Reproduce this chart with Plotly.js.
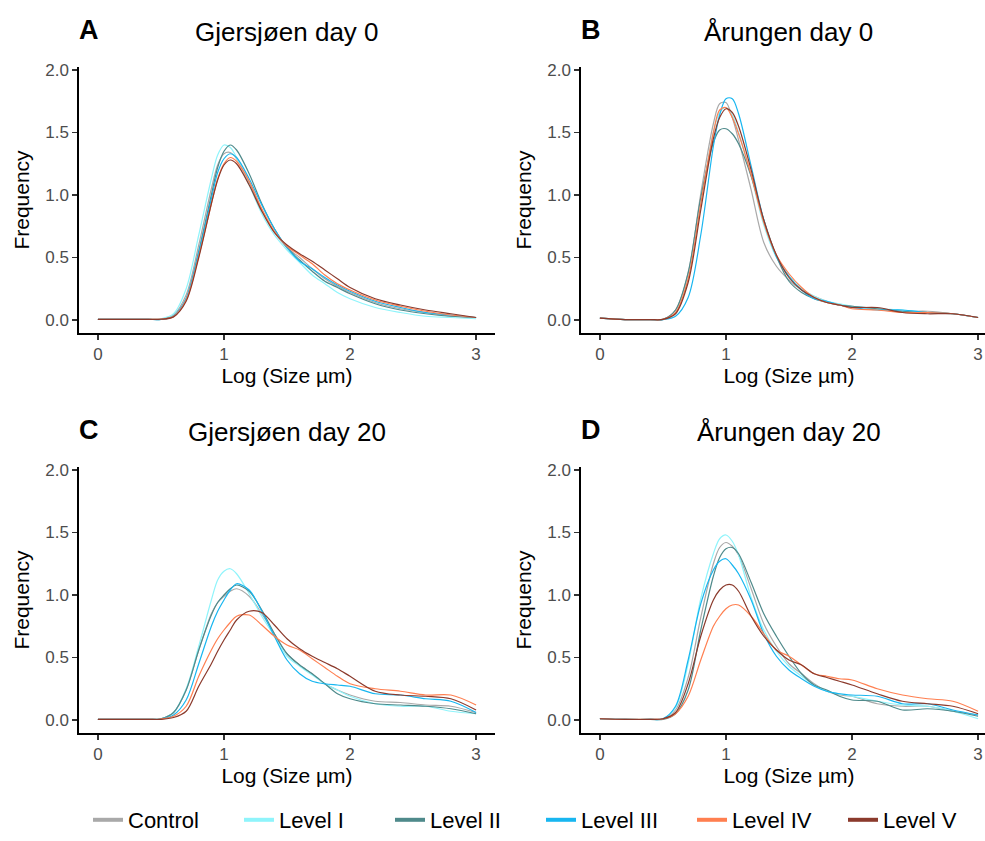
<!DOCTYPE html>
<html>
<head>
<meta charset="utf-8">
<script src="https://cdn.plot.ly/plotly-3.0.1.min.js"></script>
<style>
html,body{margin:0;padding:0;background:#fff;overflow:hidden;}
#chart{width:1000px;height:841px;}
</style>
</head>
<body>
<div id="chart"></div>
<script>
// ---- data ----
const logSize = [0,0.2,0.4,0.5,0.6,0.7,0.8,0.9,0.95,1.0,1.05,1.1,1.2,1.3,1.4,1.5,1.6,1.7,1.8,1.9,2.0,2.2,2.4,2.6,2.8,3.0];

const seriesNames = ["Control","Level I","Level II","Level III","Level IV","Level V"];
const seriesColors = ["#a9a9a9","#8ff4fb","#4f8a8b","#18b6f0","#ff7f50","#8b3a2c"];

const panelTitles = ["Gjersjøen day 0","Årungen day 0","Gjersjøen day 20","Årungen day 20"];
const panelLetters = ["A","B","C","D"];
const xTicks = [0,1,2,3];
const yTicks = [0,0.5,1,1.5,2];

// Panel A: Gjersjøen day 0
const gjer0_control = [0.005,0.005,0.005,0.007,0.04,0.20,0.60,1.05,1.24,1.33,1.34,1.29,1.10,0.88,0.70,0.58,0.50,0.41,0.33,0.27,0.22,0.14,0.09,0.06,0.03,0.02];
const gjer0_level1  = [0.005,0.005,0.005,0.010,0.05,0.25,0.68,1.13,1.32,1.40,1.38,1.30,1.08,0.85,0.68,0.56,0.46,0.36,0.29,0.22,0.17,0.10,0.06,0.03,0.02,0.01];
const gjer0_level2  = [0.005,0.005,0.005,0.005,0.03,0.17,0.55,1.00,1.22,1.35,1.40,1.36,1.17,0.93,0.73,0.58,0.48,0.39,0.31,0.26,0.21,0.13,0.08,0.05,0.03,0.02];
const gjer0_level3  = [0.005,0.005,0.005,0.005,0.03,0.17,0.54,0.97,1.18,1.29,1.33,1.30,1.13,0.92,0.73,0.58,0.47,0.41,0.34,0.28,0.23,0.15,0.10,0.06,0.04,0.02];
const gjer0_level4  = [0.005,0.005,0.005,0.008,0.027,0.16,0.51,0.93,1.13,1.25,1.30,1.27,1.11,0.89,0.71,0.59,0.52,0.45,0.36,0.29,0.24,0.16,0.11,0.07,0.04,0.02];
const gjer0_level5  = [0.005,0.005,0.005,0.006,0.025,0.15,0.50,0.93,1.12,1.24,1.28,1.25,1.08,0.87,0.70,0.60,0.53,0.47,0.40,0.33,0.26,0.17,0.12,0.08,0.05,0.02];

// Panel B: Årungen day 0
const arun0_control = [0.015,0.003,0.003,0.005,0.08,0.37,1.01,1.57,1.73,1.74,1.62,1.44,1.04,0.62,0.43,0.32,0.24,0.19,0.15,0.12,0.11,0.09,0.07,0.07,0.05,0.02];
const arun0_level1  = [0.015,0.003,0.003,0.005,0.06,0.33,0.93,1.50,1.66,1.70,1.64,1.50,1.15,0.76,0.50,0.35,0.25,0.19,0.15,0.13,0.11,0.09,0.08,0.06,0.05,0.02];
const arun0_level2  = [0.015,0.003,0.003,0.005,0.08,0.38,0.98,1.42,1.52,1.53,1.49,1.41,1.15,0.80,0.51,0.31,0.22,0.17,0.14,0.12,0.11,0.09,0.07,0.06,0.05,0.02];
const arun0_level3  = [0.015,0.003,0.003,0.003,0.03,0.18,0.68,1.39,1.64,1.77,1.77,1.65,1.23,0.80,0.51,0.35,0.24,0.17,0.15,0.12,0.10,0.08,0.08,0.06,0.05,0.02];
const arun0_level4  = [0.015,0.003,0.003,0.005,0.06,0.33,0.93,1.50,1.68,1.70,1.62,1.49,1.16,0.78,0.52,0.37,0.26,0.18,0.14,0.12,0.09,0.08,0.06,0.06,0.05,0.02];
const arun0_level5  = [0.015,0.003,0.003,0.005,0.05,0.30,0.88,1.45,1.62,1.69,1.66,1.55,1.20,0.80,0.52,0.34,0.24,0.18,0.14,0.12,0.10,0.10,0.06,0.05,0.05,0.02];

// Panel C: Gjersjøen day 20
const gjer20_control = [0.005,0.005,0.005,0.010,0.06,0.24,0.56,0.85,0.94,0.99,1.03,1.05,0.99,0.85,0.69,0.53,0.44,0.37,0.29,0.24,0.20,0.15,0.14,0.12,0.11,0.06];
const gjer20_level1  = [0.005,0.005,0.005,0.010,0.06,0.25,0.59,0.96,1.12,1.19,1.21,1.17,1.01,0.83,0.67,0.51,0.43,0.36,0.29,0.24,0.19,0.13,0.11,0.11,0.07,0.05];
const gjer20_level2  = [0.005,0.005,0.005,0.010,0.06,0.24,0.56,0.84,0.94,1.00,1.05,1.08,1.03,0.88,0.69,0.53,0.44,0.37,0.29,0.21,0.17,0.13,0.12,0.11,0.09,0.05];
const gjer20_level3  = [0.005,0.005,0.005,0.008,0.04,0.16,0.45,0.75,0.87,0.96,1.04,1.09,1.04,0.87,0.67,0.48,0.37,0.31,0.29,0.28,0.27,0.21,0.20,0.17,0.15,0.06];
const gjer20_level4  = [0.005,0.005,0.005,0.008,0.03,0.11,0.35,0.56,0.65,0.72,0.78,0.83,0.84,0.76,0.67,0.60,0.56,0.49,0.42,0.35,0.29,0.25,0.23,0.20,0.20,0.12];
const gjer20_level5  = [0.005,0.005,0.005,0.005,0.02,0.07,0.27,0.45,0.55,0.64,0.72,0.80,0.87,0.86,0.76,0.65,0.57,0.51,0.46,0.41,0.35,0.23,0.20,0.19,0.17,0.08];

// Panel D: Årungen day 20
const arun20_control = [0.01,0.005,0.005,0.010,0.08,0.34,0.82,1.25,1.38,1.42,1.39,1.32,1.05,0.77,0.59,0.45,0.37,0.29,0.23,0.20,0.19,0.13,0.11,0.11,0.07,0.04];
const arun20_level1  = [0.01,0.005,0.005,0.010,0.10,0.45,0.97,1.33,1.45,1.48,1.43,1.32,0.98,0.72,0.55,0.43,0.35,0.28,0.23,0.21,0.19,0.15,0.12,0.11,0.07,0.01];
const arun20_level2  = [0.01,0.005,0.005,0.005,0.05,0.24,0.72,1.15,1.30,1.37,1.38,1.33,1.10,0.85,0.67,0.51,0.37,0.28,0.24,0.19,0.16,0.15,0.08,0.09,0.07,0.03];
const arun20_level3  = [0.01,0.005,0.005,0.010,0.11,0.48,0.93,1.20,1.27,1.29,1.24,1.17,0.96,0.69,0.51,0.40,0.33,0.27,0.23,0.21,0.20,0.19,0.13,0.13,0.08,0.04];
const arun20_level4  = [0.01,0.005,0.005,0.008,0.05,0.19,0.48,0.75,0.83,0.89,0.92,0.92,0.83,0.69,0.56,0.51,0.44,0.37,0.35,0.33,0.32,0.25,0.20,0.17,0.15,0.07];
const arun20_level5  = [0.01,0.005,0.005,0.010,0.06,0.29,0.67,0.96,1.04,1.08,1.08,1.03,0.83,0.67,0.56,0.48,0.44,0.37,0.34,0.31,0.28,0.21,0.15,0.13,0.11,0.05];

const panels = [
  [gjer0_control,gjer0_level1,gjer0_level2,gjer0_level3,gjer0_level4,gjer0_level5],
  [arun0_control,arun0_level1,arun0_level2,arun0_level3,arun0_level4,arun0_level5],
  [gjer20_control,gjer20_level1,gjer20_level2,gjer20_level3,gjer20_level4,gjer20_level5],
  [arun20_control,arun20_level1,arun20_level2,arun20_level3,arun20_level4,arun20_level5]
];

// ---- build figure ----
const FONT = "Liberation Sans, Arial, Helvetica, sans-serif";
const W = 1000, H = 841;
const traces = [];
panels.forEach((ser, p) => {
  const xa = p === 0 ? "x" : "x" + (p + 1);
  const ya = p === 0 ? "y" : "y" + (p + 1);
  ser.forEach((vals, s) => {
    traces.push({
      type: "scatter", mode: "lines", x: logSize, y: vals,
      xaxis: xa, yaxis: ya, name: seriesNames[s],
      line: {color: seriesColors[s], width: 1.2, shape: "spline", smoothing: 0.9},
      showlegend: false, hoverinfo: "skip"
    });
  });
});
// legend entries (thicker keys, like the reference)
seriesNames.forEach((n, s) => {
  traces.push({type: "scatter", mode: "lines", x: [null], y: [null], name: n,
    line: {color: seriesColors[s], width: 4}, showlegend: true, hoverinfo: "skip"});
});

const xDomains = [[79/W, 495/W], [581/W, 997/W]];
const yDomains = [[1 - 333/H, 1 - 67/H], [1 - 733/H, 1 - 467/H]];

const layout = {
  width: W, height: H,
  margin: {l: 0, r: 0, t: 0, b: 0, autoexpand: false},
  paper_bgcolor: "#fff", plot_bgcolor: "#fff",
  font: {family: FONT, color: "#000"},
  showlegend: true,
  legend: {orientation: "h", x: 0.088, xanchor: "left", y: 0, yanchor: "bottom",
    font: {family: FONT, size: 22, color: "#000"}, entrywidth: 106, entrywidthmode: "pixels",
    bgcolor: "rgba(0,0,0,0)", borderwidth: 0, itemwidth: 30},
  annotations: [],
  hovermode: false
};

panelTitles.forEach((t, p) => {
  const col = p % 2, row = Math.floor(p / 2);
  const xk = p === 0 ? "xaxis" : "xaxis" + (p + 1);
  const yk = p === 0 ? "yaxis" : "yaxis" + (p + 1);
  const ya = p === 0 ? "y" : "y" + (p + 1);
  const xa = p === 0 ? "x" : "x" + (p + 1);
  layout[xk] = {
    domain: xDomains[col], anchor: ya, range: [-0.15, 3.15],
    tickvals: xTicks, showline: true, linecolor: "#000", linewidth: 1.6,
    ticks: "outside", ticklen: 5, tickwidth: 1.2, tickcolor: "#333",
    showgrid: false, zeroline: false,
    tickfont: {family: FONT, size: 17, color: "#4d4d4d"},
    title: {text: "Log (Size µm)", font: {family: FONT, size: 21, color: "#000"}, standoff: 4}
  };
  layout[yk] = {
    domain: yDomains[row], anchor: xa, range: [-0.104, 2.024],
    tickvals: yTicks, tickformat: ".1f", showline: true, linecolor: "#000", linewidth: 1.6,
    ticks: "outside", ticklen: 5, tickwidth: 1.2, tickcolor: "#333",
    showgrid: false, zeroline: false,
    tickfont: {family: FONT, size: 17, color: "#4d4d4d"},
    title: {text: "Frequency", font: {family: FONT, size: 21, color: "#000"}, standoff: 10}
  };
  const cx = (xDomains[col][0] + xDomains[col][1]) / 2;
  const ty = row === 0 ? 32 : 432;
  layout.annotations.push({text: t, xref: "paper", yref: "paper", x: cx, y: 1 - ty/H,
    xanchor: "center", yanchor: "middle", showarrow: false,
    font: {family: FONT, size: 26, color: "#000"}});
  layout.annotations.push({text: "<b>" + panelLetters[p] + "</b>", xref: "paper", yref: "paper",
    x: xDomains[col][0] + 10/W, y: 1 - (ty - 2)/H, xanchor: "center", yanchor: "middle",
    showarrow: false, font: {family: FONT, size: 27, color: "#000"}});
});

Plotly.newPlot("chart", traces, layout, {staticPlot: true, displayModeBar: false});
</script>
</body>
</html>
